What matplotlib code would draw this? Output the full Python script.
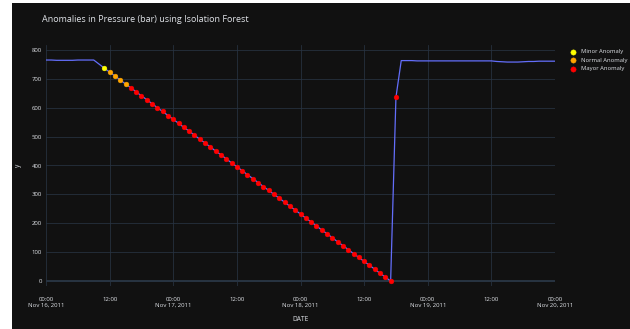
import numpy as np
import pandas as pd
import matplotlib
matplotlib.use("Agg")
import matplotlib.pyplot as plt
import matplotlib.dates as mdates
from matplotlib.patches import Rectangle

# hourly pressure readings, Nov 16 00:00 -> Nov 20 00:00
dates = pd.date_range("2011-11-16 00:00", "2011-11-20 00:00", freq="h")
pressure = [765, 765, 764, 764, 764, 764, 765, 765, 765, 765,
            751,
            737, 723, 710, 696, 682, 669, 655, 641, 628, 614,
            600, 587, 573, 560, 546, 532, 519, 505, 491, 478,
            464, 450, 437, 423, 409, 396, 382, 368, 355, 341,
            327, 314, 300, 287, 273, 259, 246, 232, 218, 205,
            191, 177, 164, 150, 136, 123, 109, 95, 82, 68,
            55, 41, 27, 14, 0,
            636,
            763, 763, 763, 762, 762, 762, 762, 762, 762, 762,
            762, 762, 762, 762, 762, 762, 762, 762, 760, 759,
            758, 758, 758, 759, 760, 760, 761, 761, 761, 761]

# which hours were flagged
minor_idx = [11]
normal_idx = [12, 13, 14, 15]
major_idx = list(range(16, 67))

BG = "#111111"
GRID = "#283442"
TXT = "#e0e3e8"

plt.rcParams['font.family'] = ['Open Sans', 'DejaVu Sans']

fig = plt.figure(figsize=(6.3, 3.29), dpi=100, facecolor="white")
bg = Rectangle((12 / 630, 0), 1, 1 - 3 / 329, transform=fig.transFigure,
               facecolor=BG, edgecolor="none", zorder=-10)
fig.add_artist(bg)

ax = fig.add_axes([46 / 630, 1 - 286 / 329, 509 / 630, 241 / 329])
ax.set_facecolor(BG)

ax.plot(dates, pressure, color="#636efa", lw=0.9, zorder=3)

for idx, col, name in [(minor_idx, "yellow", "Minor Anomaly"),
                       (normal_idx, "orange", "Normal Anomaly"),
                       (major_idx, "red", "Mayor Anomaly")]:
    ax.scatter(dates[idx], [pressure[i] for i in idx], s=12, color=col,
               edgecolors=col, linewidths=0.3, zorder=4, label=name)

ax.set_xlim(dates[0], dates[-1])
ax.set_ylim(-17, 817)
ax.set_yticks(range(0, 801, 100))

ticks = pd.date_range("2011-11-16 00:00", "2011-11-20 00:00", freq="12h")
labels = [t.strftime("%H:%M") + ("\n" + t.strftime("%b %d, %Y") if t.hour == 0 else "") for t in ticks]
ax.set_xticks(mdates.date2num(ticks.to_pydatetime()))
ax.set_xticklabels(labels)

ax.grid(True, color=GRID, lw=0.55)
ax.axhline(0, color=GRID, lw=1.4, zorder=1)
ax.set_axisbelow(True)
for s in ax.spines.values():
    s.set_visible(False)
ax.tick_params(length=0, colors=TXT, labelsize=4.3)
ax.tick_params(axis="x", pad=8)
ax.tick_params(axis="y", pad=3)
for lab in ax.get_xticklabels():
    lab.set_linespacing(1.25)
    lab.set_verticalalignment("top")

ax.set_xlabel("DATE", color=TXT, fontsize=4.8, labelpad=6)
ax.set_ylabel("y", color=TXT, fontsize=4.8, labelpad=7)

fig.text(42 / 630, 1 - 20 / 329, "Anomalies in Pressure (bar) using Isolation Forest",
         color=TXT, fontsize=6.5, va="center", ha="left")

leg = ax.legend(loc="upper left", bbox_to_anchor=(1.015, 1.0), frameon=False,
                fontsize=4.2, handletextpad=0.5, labelspacing=0.6, markerscale=1.1,
                borderaxespad=0.3)
for t in leg.get_texts():
    t.set_color(TXT)

fig.savefig("out.png", dpi=100, facecolor=fig.get_facecolor())
